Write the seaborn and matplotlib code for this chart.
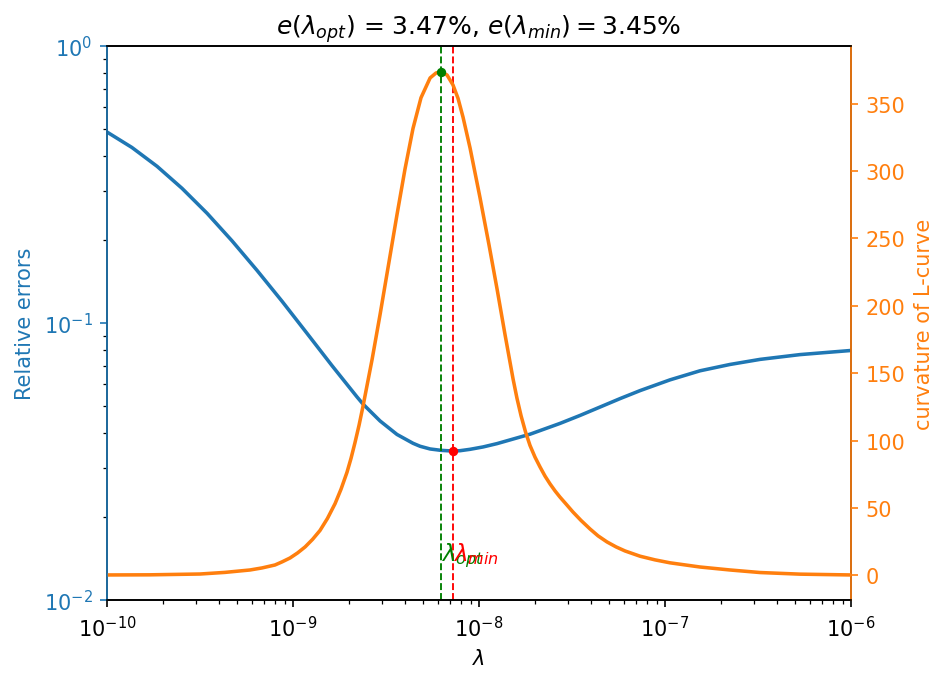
import numpy as np
import pandas as pd
import matplotlib
matplotlib.use("Agg")
import matplotlib.pyplot as plt
import seaborn as sns

# log10(lambda) sample positions and values
err_exp = [-10.000, -9.866, -9.731, -9.597, -9.462, -9.328, -9.194, -9.059, -8.925,
           -8.790, -8.656, -8.624, -8.532, -8.441, -8.355, -8.317, -8.263, -8.204,
           -8.172, -8.140, -8.102, -8.048, -7.978, -7.903, -7.726, -7.565, -7.457,
           -7.349, -7.242, -7.134, -6.973, -6.812, -6.651, -6.489, -6.274, -6.000]
err_val = [0.489, 0.4301, 0.3678, 0.3064, 0.2489, 0.1980, 0.1550, 0.1198, 0.0918,
           0.0701, 0.0541, 0.0510, 0.0443, 0.0396, 0.0368, 0.0359, 0.0351, 0.0347,
           0.0346, 0.0345, 0.0346, 0.0350, 0.0357, 0.0367, 0.03968, 0.04340, 0.04638,
           0.04975, 0.05334, 0.05702, 0.06235, 0.06722, 0.07085, 0.07391, 0.07691, 0.07959]

curv_exp = [-10.000, -9.769, -9.500, -9.366, -9.231, -9.167, -9.097, -9.059, -9.016,
            -8.976, -8.935, -8.895, -8.855, -8.815, -8.774, -8.742, -8.710, -8.688,
            -8.667, -8.645, -8.624, -8.575, -8.532, -8.484, -8.441, -8.398,
            -8.355, -8.312, -8.263, -8.231, -8.204, -8.172, -8.140, -8.113, -8.086,
            -8.048, -7.995, -7.946, -7.903, -7.860, -7.817, -7.796, -7.774, -7.750,
            -7.726, -7.699, -7.672, -7.645, -7.618, -7.591, -7.565, -7.532, -7.495,
            -7.452, -7.403, -7.360, -7.312, -7.263, -7.215, -7.134, -7.054, -6.973,
            -6.812, -6.651, -6.489, -6.274, -6.000]
curv_val = [0.4, 0.5, 1.1, 2.3, 4.1, 5.6, 7.8, 10.1, 13.0,
            16.7, 21.2, 26.8, 33.4, 42.3, 53.3, 64.0, 76.5, 87.0,
            98.5, 111.5, 125.4, 160.2, 193.6, 232.6, 267.7, 301.5,
            331.6, 354.4, 369.1, 372.8, 373.5, 371.3, 363.9, 354.0, 340.0,
            317.0, 280.5, 245.0, 212.5, 178.5, 145.8, 131.5, 118.5, 106.5,
            96.5, 87.8, 80.5, 73.7, 67.9, 62.7, 58.2, 53.0, 47.1,
            40.9, 34.5, 29.4, 24.9, 21.2, 18.2, 14.3, 11.6, 9.4,
            6.3, 4.1, 2.2, 1.0, 0.4]

lam_opt = 6.25e-9
lam_min = 7.24e-9
e_opt = 3.47
e_min = 3.45

err_df = pd.DataFrame({"lam": 10.0 ** np.array(err_exp), "err": err_val})
curv_df = pd.DataFrame({"lam": 10.0 ** np.array(curv_exp), "curv": curv_val})

fig = plt.figure(figsize=(6.32, 4.56), dpi=150)
ax = fig.add_axes([0.1129, 0.1213, 0.7848, 0.81])
ax.set_xscale("log")
ax.set_yscale("log")
blue = "tab:blue"
orange = "tab:orange"

sns.lineplot(data=err_df, x="lam", y="err", ax=ax, color=blue, lw=1.7)
ax.set_xlim(1e-10, 1e-6)
ax.set_ylim(1e-2, 1e0)
ax.set_xlabel(r"$\lambda$")
ax.set_ylabel("Relative errors", color=blue)
ax.tick_params(axis="y", which="major", colors=blue)
ax.tick_params(axis="y", which="minor", colors="black")

ax2 = ax.twinx()
sns.lineplot(data=curv_df, x="lam", y="curv", ax=ax2, color=orange, lw=1.7)
ax2.set_ylim(-18.2, 392.8)
ax2.set_ylabel("curvature of L-curve", color=orange)
ax2.tick_params(axis="y", colors=orange)
ax2.spines["right"].set_color(orange)
ax2.spines["left"].set_color(blue)

ax.axvline(lam_opt, color="green", ls="--", lw=0.9)
ax.axvline(lam_min, color="red", ls="--", lw=0.9)
ax2.plot([lam_opt], [max(curv_val)], "o", color="green", ms=3.5)
ax.plot([lam_min], [min(err_val)], "o", color="red", ms=3.5)
ax.text(lam_opt, 0.0139, r"$\lambda_{opt}$", color="green", fontsize=11)
ax.text(lam_min, 0.0139, r"$\lambda_{min}$", color="red", fontsize=11)

ax.set_title(r"$e(\lambda_{opt})$ = " + f"{e_opt:.2f}%" + r", $e(\lambda_{min}) = " + f"{e_min:.2f}" + r"\%$",
             fontsize=12)

fig.savefig("out.png", dpi=150)
